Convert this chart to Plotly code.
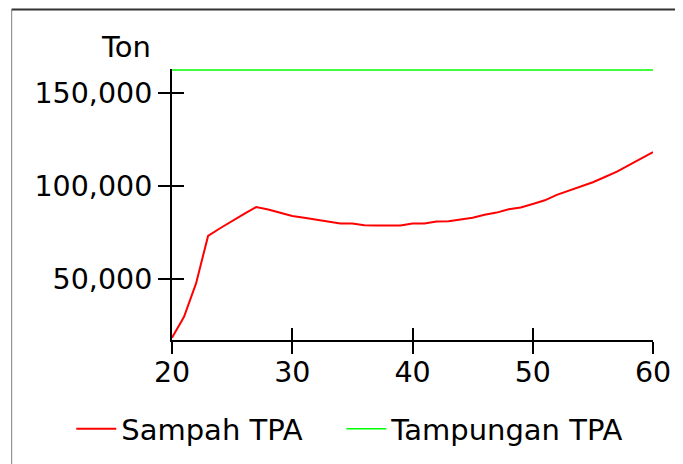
import plotly.graph_objects as go

# data
time = list(range(20, 61))
sampah_tpa = [18500, 29800, 47700, 73200, 77300, 81300, 85000, 88700, 87400, 85600,
              83900, 82900, 82000, 81000, 79900, 79800, 78900, 78800, 78800, 78800,
              79800, 79900, 80900, 81000, 82000, 82900, 84500, 85700, 87500, 88400,
              90300, 92300, 95200, 97500, 100000, 102000, 104800, 107700, 111200, 114600,
              118200]
tampungan_tpa = [162300] * len(time)

x_ticks = [20, 30, 40, 50, 60]
y_ticks = [50000, 100000, 150000]
y_tick_labels = ["50,000", "100,000", "150,000"]

FONT = "DejaVu Sans"
x_range = [20, 60]
y_range = [17300, 162800]

fig = go.Figure()
fig.add_trace(go.Scatter(x=time, y=sampah_tpa, mode="lines", name="Sampah TPA",
                         legend="legend",
                         line=dict(color="#ff0000", width=2)))
# green series on the overlay axes (those also draw the inner half of the ticks)
fig.add_trace(go.Scatter(x=time, y=tampungan_tpa, mode="lines", name="Tampungan TPA",
                         xaxis="x2", yaxis="y2", legend="legend2",
                         line=dict(color="#00ff00", width=1.5)))

axis_common = dict(showgrid=False, zeroline=False, linecolor="black", linewidth=2,
                   tickcolor="black", tickwidth=2, ticklen=12, automargin=False)
legend_common = dict(orientation="h", xanchor="left", y=-0.2336, yanchor="top",
                     itemwidth=40, font=dict(size=29), bgcolor="rgba(0,0,0,0)")

# page has an 8px body margin, so the figure is 8px smaller than the window
fig.update_layout(
    width=675, height=456,
    margin=dict(l=163.5, r=30, t=61, b=124, autoexpand=False),
    paper_bgcolor="white", plot_bgcolor="white",
    font=dict(family=FONT, size=28.5, color="black"),
    xaxis=dict(range=x_range, tickvals=x_ticks, ticks="outside", showline=True,
               ticklabelstandoff=-6, **axis_common),
    yaxis=dict(range=y_range, tickvals=y_ticks, ticktext=y_tick_labels, ticks="outside",
               showline=True, **axis_common),
    xaxis2=dict(range=x_range, tickvals=x_ticks, ticks="inside", overlaying="x", anchor="y2",
                side="bottom", showticklabels=False, showline=False, **axis_common),
    yaxis2=dict(range=y_range, tickvals=y_ticks, ticks="inside", overlaying="y", anchor="x2",
                side="left", showticklabels=False, showline=False, **axis_common),
    showlegend=True,
    legend=dict(x=-0.2094, **legend_common),
    legend2=dict(x=0.352, **legend_common),
    annotations=[dict(text="Ton", xref="paper", yref="paper", x=-0.0966, y=1.083,
                      xanchor="center", yanchor="middle", showarrow=False,
                      font=dict(size=29))],
    shapes=[
        dict(type="line", xref="paper", yref="paper", x0=-0.3333, x1=-0.3333, y0=-0.6, y1=1.2196,
             line=dict(color="#808080", width=1)),
        dict(type="line", xref="paper", yref="paper", x0=-0.3333, x1=1.2, y0=1.2196, y1=1.2196,
             line=dict(color="#333333", width=2)),
    ],
)

fig.write_html("out.html")
